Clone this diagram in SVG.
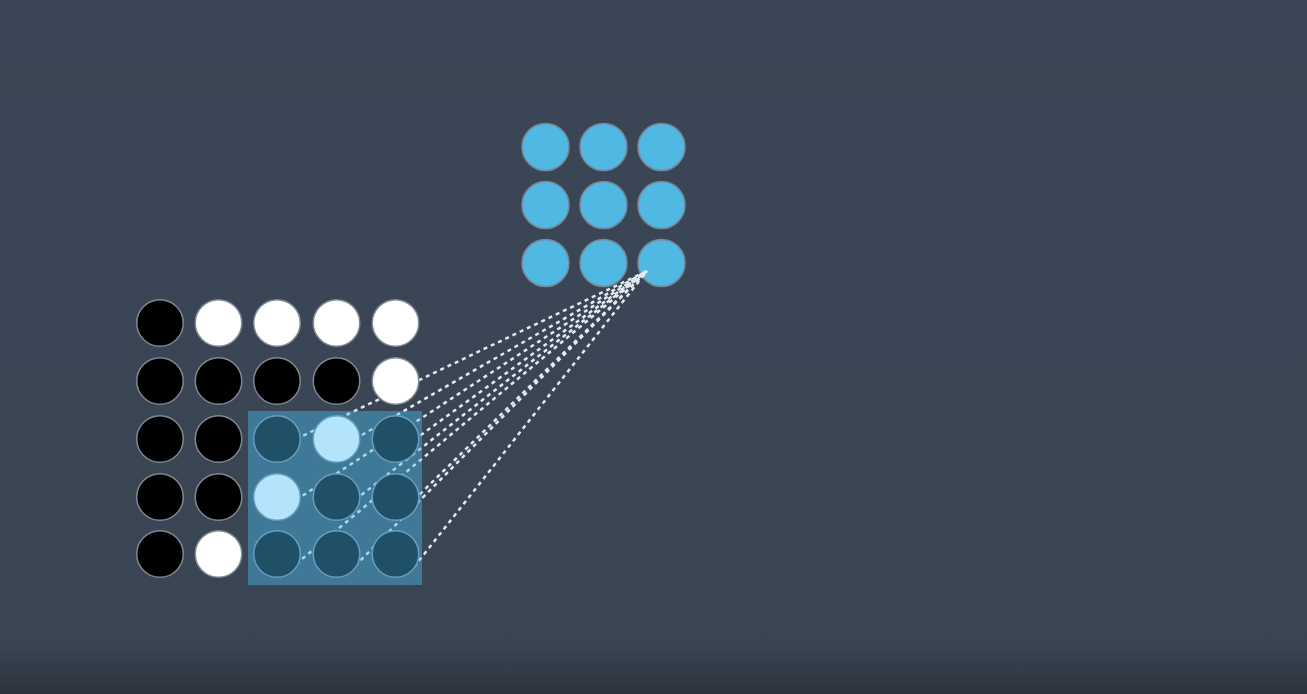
<svg xmlns="http://www.w3.org/2000/svg" width="1307" height="694" viewBox="0 0 1307 694">
<defs>
<linearGradient id="bg" x1="0" y1="0" x2="0" y2="694" gradientUnits="userSpaceOnUse">
<stop offset="0" stop-color="#3a4655"/>
<stop offset="0.93" stop-color="#394553"/>
<stop offset="1" stop-color="#2c333d"/>
</linearGradient>
<style>
.k{fill:#000;stroke:#7e8792;stroke-width:1.5}
.w{fill:#fff;stroke:#7e8792;stroke-width:1.5}
.o{fill:#4fb9e4;stroke:#76889a;stroke-width:1.5}
.c{fill:none;stroke:#e4eaef;stroke-width:2.5;stroke-dasharray:4 4}
.ov{fill:#4abef8;fill-opacity:0.42}
</style>
</defs>
<rect x="0" y="0" width="1307" height="694" fill="url(#bg)"/>
<g id="output">
<circle class="o" cx="545.5" cy="147" r="23.5"/>
<circle class="o" cx="603.5" cy="147" r="23.5"/>
<circle class="o" cx="661.5" cy="147" r="23.5"/>
<circle class="o" cx="545.5" cy="205" r="23.5"/>
<circle class="o" cx="603.5" cy="205" r="23.5"/>
<circle class="o" cx="661.5" cy="205" r="23.5"/>
<circle class="o" cx="545.5" cy="263" r="23.5"/>
<circle class="o" cx="603.5" cy="263" r="23.5"/>
<circle class="o" cx="661.5" cy="263" r="23.5"/>
</g>
<g id="connectors">
<line class="c" x1="296" y1="439" x2="647" y2="271"/>
<line class="c" x1="355" y1="439" x2="647" y2="271"/>
<line class="c" x1="414" y1="440" x2="647" y2="271"/>
<line class="c" x1="296" y1="500" x2="647" y2="271"/>
<line class="c" x1="355" y1="500" x2="647" y2="271"/>
<line class="c" x1="414" y1="500" x2="647" y2="271"/>
<line class="c" x1="296" y1="564" x2="647" y2="271"/>
<line class="c" x1="355" y1="566" x2="647" y2="271"/>
<line class="c" x1="414" y1="567" x2="647" y2="271"/>
</g>
<g id="input">
<circle class="k" cx="160" cy="323" r="23.3"/>
<circle class="w" cx="218.5" cy="323" r="23.3"/>
<circle class="w" cx="277" cy="323" r="23.3"/>
<circle class="w" cx="336.5" cy="323" r="23.3"/>
<circle class="w" cx="395.5" cy="323" r="23.3"/>
<circle class="k" cx="160" cy="381" r="23.3"/>
<circle class="k" cx="218.5" cy="381" r="23.3"/>
<circle class="k" cx="277" cy="381" r="23.3"/>
<circle class="k" cx="336.5" cy="381" r="23.3"/>
<circle class="w" cx="395.5" cy="381" r="23.3"/>
<circle class="k" cx="160" cy="439" r="23.3"/>
<circle class="k" cx="218.5" cy="439" r="23.3"/>
<circle class="k" cx="277" cy="439" r="23.3"/>
<circle class="w" cx="336.5" cy="439" r="23.3"/>
<circle class="k" cx="395.5" cy="439" r="23.3"/>
<circle class="k" cx="160" cy="497" r="23.3"/>
<circle class="k" cx="218.5" cy="497" r="23.3"/>
<circle class="w" cx="277" cy="497" r="23.3"/>
<circle class="k" cx="336.5" cy="497" r="23.3"/>
<circle class="k" cx="395.5" cy="497" r="23.3"/>
<circle class="k" cx="160" cy="554" r="23.3"/>
<circle class="w" cx="218.5" cy="554" r="23.3"/>
<circle class="k" cx="277" cy="554" r="23.3"/>
<circle class="k" cx="336.5" cy="554" r="23.3"/>
<circle class="k" cx="395.5" cy="554" r="23.3"/>
</g>
<g id="window">
<rect class="ov" x="248" y="411" width="174" height="174"/>
</g>
</svg>
